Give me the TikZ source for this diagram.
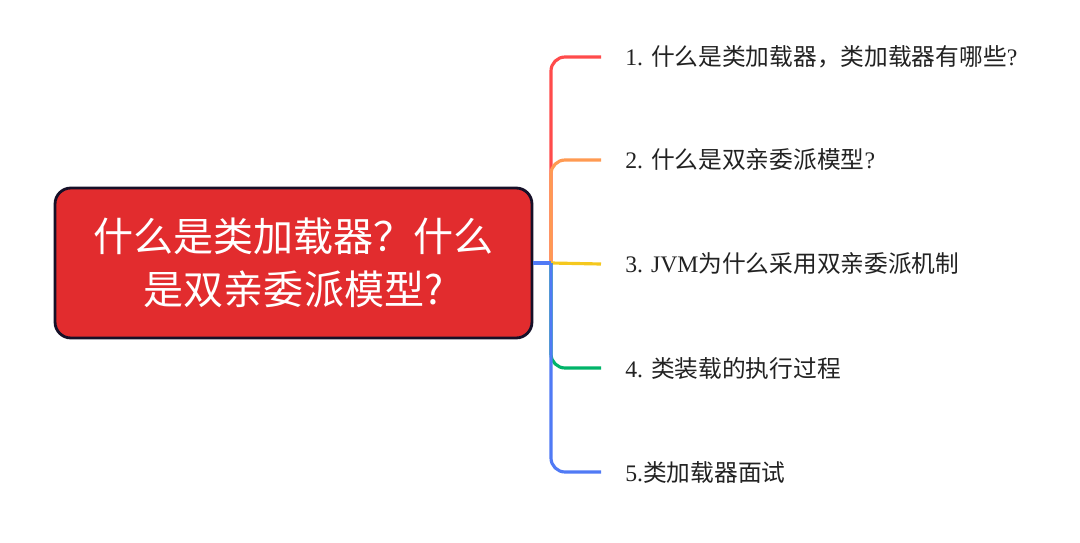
\documentclass[tikz,border=0pt]{standalone}
\usepackage{fontspec}
\setmainfont{Liberation Serif}
\newfontfamily\cjk{Noto Sans CJK SC}
\usetikzlibrary{positioning,calc}
\definecolor{rootred}{RGB}{226,44,46}
\definecolor{rootedge}{RGB}{22,16,40}
\definecolor{brred}{RGB}{255,75,75}
\definecolor{brorange}{RGB}{255,154,82}
\definecolor{bryellow}{RGB}{245,200,30}
\definecolor{brgreen}{RGB}{0,180,105}
\definecolor{brblue}{RGB}{80,122,245}
\definecolor{itemtext}{RGB}{34,34,34}

\tikzset{
  branch/.style={line width=1.8pt, rounded corners=8pt},
  item/.style={anchor=west, inner sep=0pt, text=itemtext,
    font=\fontsize{13.5}{16}\selectfont}
}

\begin{document}
\begin{tikzpicture}[x=0.02cm, y=-0.02cm]
\useasboundingbox (0,0) rectangle (1080,542);

% ================= ROOT =================
\node[
draw=rootedge,
line width=1.6pt,
rounded corners=9pt,
fill=rootred,
minimum width=9.54cm,
minimum height=3cm,
text width=8.6cm,
align=center,
text=white,
font=\cjk\fontsize{22.8}{30}\selectfont
] (root) at (293.5, 263)
{什么是类加载器？什么\\是双亲委派模型?};

% ================= ITEMS =================
\node[item] (q1) at (625, 57) {1. {\cjk 什么是类加载器，类加载器有哪些}?};
\node[item] (q2) at (625, 160) {2. {\cjk 什么是双亲委派模型}?};
\node[item] (q3) at (625, 264) {3. JVM{\cjk 为什么采用双亲委派机制}};
\node[item] (q4) at (625, 368) {4. {\cjk 类装载的执行过程}};
\node[item] (q5) at (625, 472) {5.{\cjk 类加载器面试}};

% ================= BRANCHES =================
\coordinate (hub) at (551, 263);
\coordinate (e1) at (601, 57);
\coordinate (e2) at (601, 160);
\coordinate (e3) at (601, 264);
\coordinate (e4) at (601, 368);
\coordinate (e5) at (601, 472);

\draw[branch, brred] (hub) |- (e1);
\draw[branch, brorange] (hub) |- (e2);
\draw[branch, bryellow] (hub) -- (e3);
\draw[branch, brgreen] (hub) |- (e4);
\draw[branch, brblue] (hub) |- (e5);
\draw[branch, brblue] (root.east) -- (hub);

\end{tikzpicture}
\end{document}
